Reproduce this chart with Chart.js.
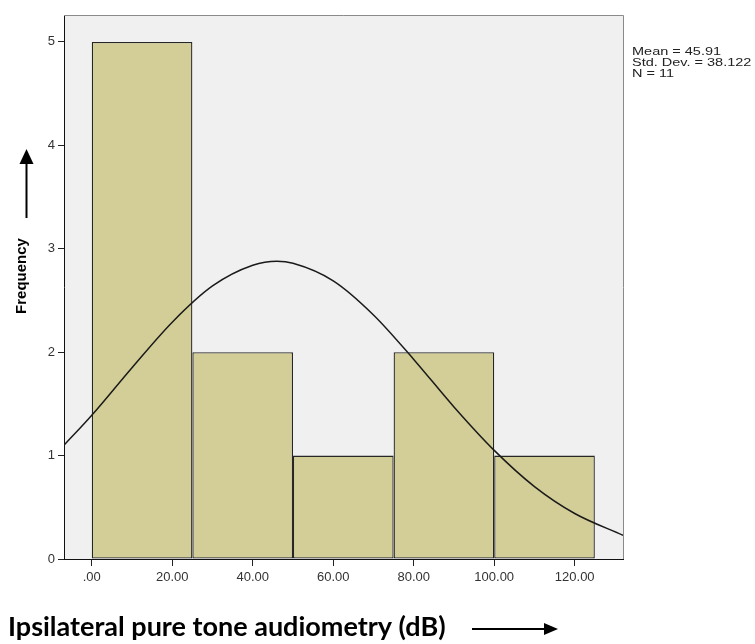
<!DOCTYPE html>
<html>
<head>
<meta charset="utf-8">
<script src="https://cdn.jsdelivr.net/npm/chart.js@4.4.0/dist/chart.umd.min.js"></script>
<style>
  html, body { margin: 0; padding: 0; background: #fff; }
  #wrap { width: 755px; height: 644px; }
</style>
</head>
<body>
<div id="wrap"><canvas id="chart" width="755" height="644"></canvas></div>
<script>
// histogram bins (dB) and counts
const binEdges = [0, 25, 50, 75, 100, 125];
const binCenters = [12.5, 37.5, 62.5, 87.5, 112.5];
const frequencies = [5, 2, 1, 2, 1];

// normal curve
const curveX = [-6.9, 0, 10, 20, 30, 40, 46, 50, 60, 70, 80, 90, 100, 110, 120, 132];
const curveY = [1.10, 1.39, 1.85, 2.29, 2.64, 2.84, 2.88, 2.86, 2.69, 2.36, 1.93, 1.47, 1.05, 0.70, 0.44, 0.23];

const xTicks = [0, 20, 40, 60, 80, 100, 120];
const yTicks = [0, 1, 2, 3, 4, 5];
const statLines = ['Mean = 45.91', 'Std. Dev. = 38.122', 'N = 11'];
const xTitle = 'Ipsilateral pure tone audiometry (dB)';
const yTitle = 'Frequency';

const X_MIN = -6.9, X_MAX = 132, Y_MAX = 5.26;
const tickFont = { family: 'Liberation Sans, Arial, sans-serif', size: 13 };

// bar ruler in chart.js uses the tick spacing, so widen bars to a full bin
const binWidth = binEdges[1] - binEdges[0];
const tickStep = xTicks[1] - xTicks[0];

function arrow(ctx, x1, y1, x2, y2, head, half) {
  const a = Math.atan2(y2 - y1, x2 - x1);
  const bx = x2 - head * Math.cos(a), by = y2 - head * Math.sin(a);
  ctx.beginPath();
  ctx.moveTo(x1, y1);
  ctx.lineTo(bx, by);
  ctx.stroke();
  ctx.beginPath();
  ctx.moveTo(x2, y2);
  ctx.lineTo(bx + half * Math.sin(a), by - half * Math.cos(a));
  ctx.lineTo(bx - half * Math.sin(a), by + half * Math.cos(a));
  ctx.closePath();
  ctx.fill();
}

const decor = {
  id: 'decor',
  beforeDraw(chart) {
    const { ctx, chartArea: a } = chart;
    ctx.save();
    ctx.fillStyle = '#f0f0f0';
    ctx.fillRect(a.left, a.top, a.right - a.left, a.bottom - a.top);
    ctx.restore();
  },
  afterDraw(chart) {
    const { ctx, chartArea: a } = chart;
    ctx.save();
    // frame top + right
    ctx.strokeStyle = '#8a8a8a';
    ctx.lineWidth = 1;
    ctx.beginPath();
    ctx.moveTo(a.left, a.top + 0.5);
    ctx.lineTo(a.right + 0.5, a.top + 0.5);
    ctx.lineTo(a.right + 0.5, a.bottom);
    ctx.stroke();

    // stats text (the source image is stretched sideways)
    ctx.save();
    ctx.translate(a.right + 9, 46);
    ctx.scale(1.26, 1);
    ctx.fillStyle = '#222';
    ctx.font = '11.5px "Liberation Sans", Arial, sans-serif';
    ctx.textBaseline = 'top';
    ctx.textAlign = 'left';
    statLines.forEach((s, i) => ctx.fillText(s, 0, i * 10.8));
    ctx.restore();

    // y title + arrow
    ctx.fillStyle = '#000';
    ctx.strokeStyle = '#000';
    ctx.save();
    ctx.translate(22, 276);
    ctx.rotate(-Math.PI / 2);
    ctx.font = 'bold 15px "Liberation Sans", Arial, sans-serif';
    ctx.textAlign = 'center';
    ctx.textBaseline = 'middle';
    ctx.fillText(yTitle, 0, 0);
    ctx.restore();
    ctx.lineWidth = 2;
    arrow(ctx, 26.5, 218, 26.5, 149, 15, 7);

    // x title + arrow
    ctx.font = 'bold 27px Lato, "Open Sans", sans-serif';
    ctx.textAlign = 'left';
    ctx.textBaseline = 'alphabetic';
    ctx.fillText(xTitle, 8, 636);
    arrow(ctx, 472, 629, 558, 629, 14, 6);
    ctx.restore();
  }
};

new Chart(document.getElementById('chart'), {
  data: {
    datasets: [
      {
        type: 'line',
        data: curveX.map((x, i) => ({ x, y: curveY[i] })),
        borderColor: '#1a1a1a',
        borderWidth: 1.5,
        pointRadius: 0,
        cubicInterpolationMode: 'monotone',
        order: 0
      },
      {
        type: 'bar',
        data: binCenters.map((x, i) => ({ x, y: frequencies[i] })),
        backgroundColor: '#d3ce97',
        borderColor: '#262626',
        borderWidth: 1.3,
        borderSkipped: false,
        barPercentage: binWidth / tickStep,
        categoryPercentage: 1,
        order: 1
      }
    ]
  },
  options: {
    responsive: false,
    animation: false,
    layout: { padding: { left: 0, top: 15, right: 132, bottom: 55 } },
    plugins: { legend: { display: false }, tooltip: { enabled: false } },
    scales: {
      x: {
        type: 'linear',
        offset: false,
        min: X_MIN,
        max: X_MAX,
        afterBuildTicks: s => { s.ticks = xTicks.map(v => ({ value: v })); },
        afterFit: s => { s.height = 30; },
        ticks: {
          color: '#333',
          font: tickFont,
          padding: 4,
          maxRotation: 0,
          autoSkip: false,
          callback: v => v === 0 ? '.00' : v.toFixed(2)
        },
        grid: { offset: false, drawOnChartArea: false, tickLength: 7, color: '#222' },
        border: { color: '#111', width: 1 }
      },
      y: {
        min: 0,
        max: Y_MAX,
        afterBuildTicks: s => { s.ticks = yTicks.map(v => ({ value: v })); },
        afterFit: s => { s.width = 64; },
        ticks: { color: '#333', font: tickFont, padding: 3 },
        grid: { drawOnChartArea: false, tickLength: 6, color: '#222' },
        border: { color: '#111', width: 1 }
      }
    }
  },
  plugins: [decor]
});
</script>
</body>
</html>
